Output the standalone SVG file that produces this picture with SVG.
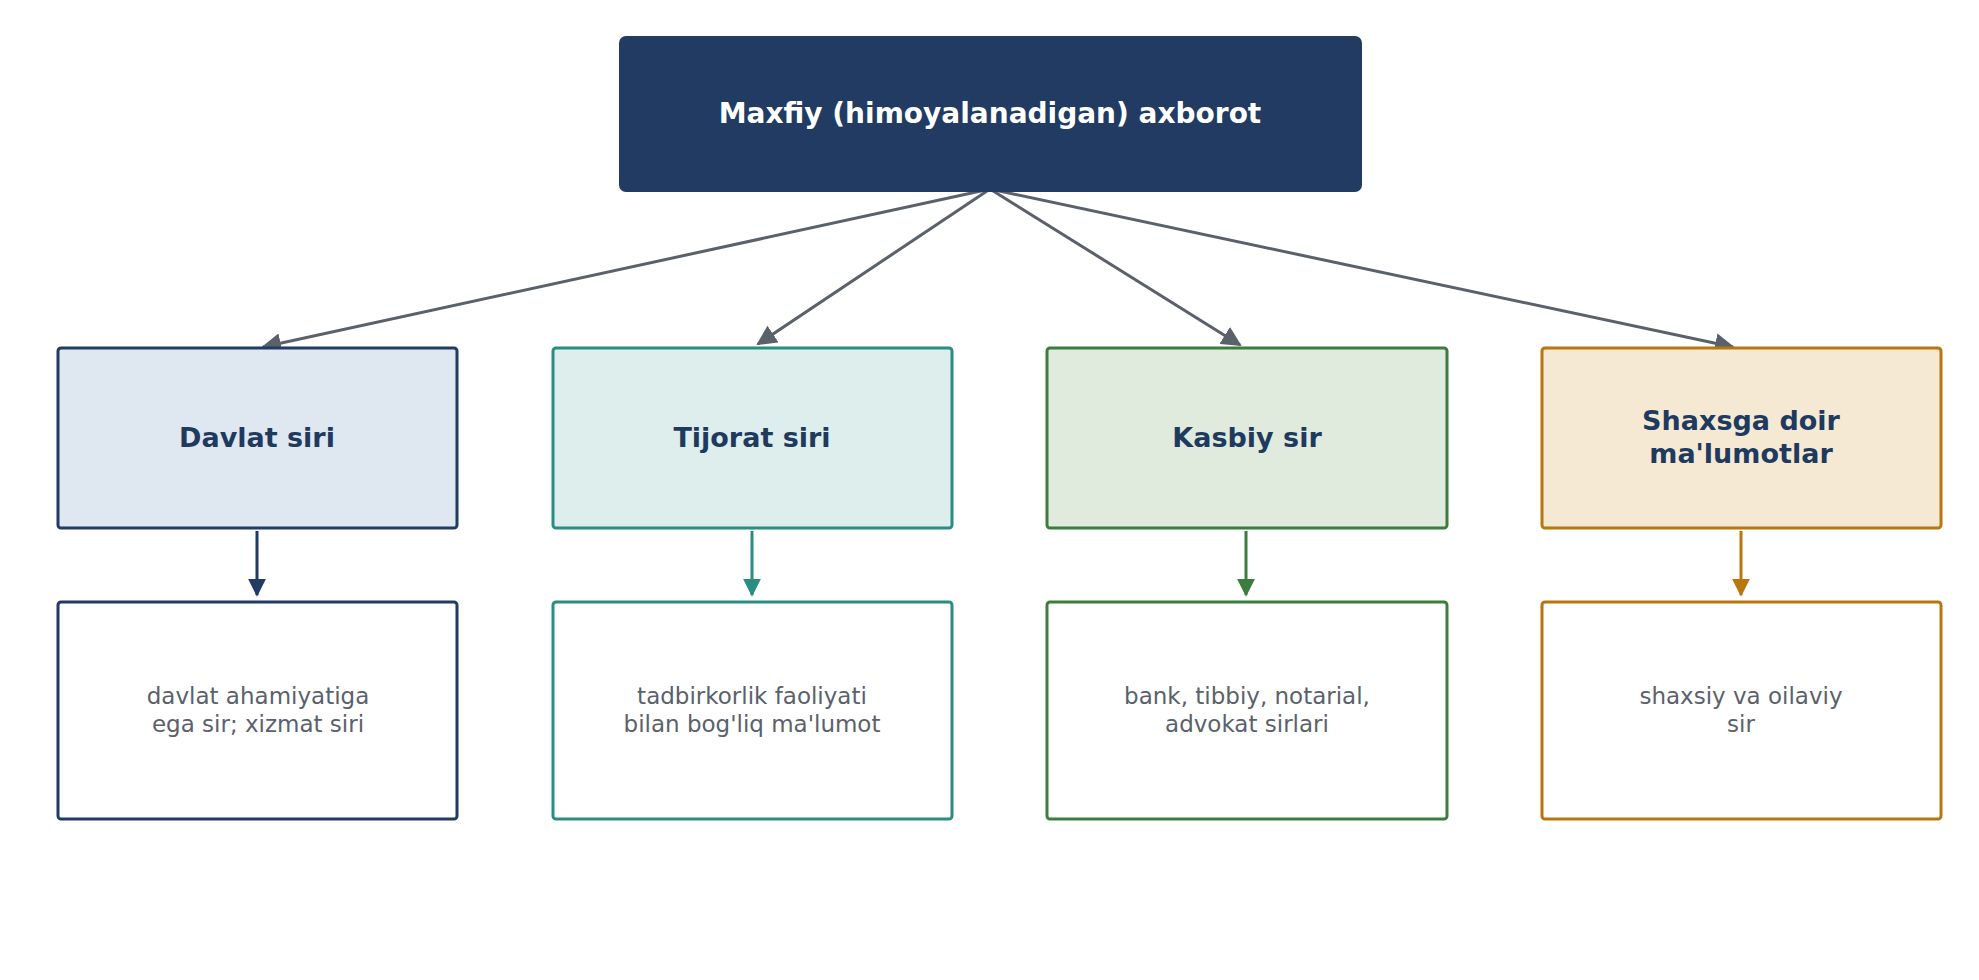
<svg xmlns="http://www.w3.org/2000/svg" width="1979" height="980" viewBox="0 0 1979 980">
<style>
text{font-family:"DejaVu Sans","Noto Sans",sans-serif;text-anchor:middle}
.h{font-weight:bold;font-size:27px;fill:#1F3A5F}
.d{font-size:23px;fill:#5A616B}
.c{stroke:#5A616B;stroke-width:3;fill:none}
</style>
<defs>
<marker id="ag" markerWidth="10" markerHeight="8" refX="9" refY="4" orient="auto" markerUnits="userSpaceOnUse" viewBox="0 0 10 8"><path d="M0,0L10,4L0,8z" fill="#5A616B"/></marker>
<marker id="an" viewBox="0 0 10 10" refX="9" refY="5" markerWidth="18" markerHeight="18" orient="auto" markerUnits="userSpaceOnUse"><path d="M0,0L10,5L0,10z" fill="#213B63"/></marker>
<marker id="at" viewBox="0 0 10 10" refX="9" refY="5" markerWidth="18" markerHeight="18" orient="auto" markerUnits="userSpaceOnUse"><path d="M0,0L10,5L0,10z" fill="#2A8C82"/></marker>
<marker id="agr" viewBox="0 0 10 10" refX="9" refY="5" markerWidth="18" markerHeight="18" orient="auto" markerUnits="userSpaceOnUse"><path d="M0,0L10,5L0,10z" fill="#3A7D3E"/></marker>
<marker id="ao" viewBox="0 0 10 10" refX="9" refY="5" markerWidth="18" markerHeight="18" orient="auto" markerUnits="userSpaceOnUse"><path d="M0,0L10,5L0,10z" fill="#B8760F"/></marker>
<marker id="a2" viewBox="0 0 10 10" refX="9" refY="5" markerWidth="20" markerHeight="20" orient="auto" markerUnits="userSpaceOnUse"><path d="M0,0L10,5L0,10z" fill="#5A616B"/></marker>
</defs>
<rect width="1979" height="980" fill="#fff"/>
<g id="connectors">
<line class="c" x1="990" y1="189" x2="263" y2="347" marker-end="url(#a2)"/>
<line class="c" x1="990" y1="189" x2="758" y2="344" marker-end="url(#a2)"/>
<line class="c" x1="990" y1="189" x2="1240" y2="345" marker-end="url(#a2)"/>
<line class="c" x1="990" y1="189" x2="1733" y2="347" marker-end="url(#a2)"/>
<line x1="257" y1="531" x2="257" y2="595" stroke="#213B63" stroke-width="3" marker-end="url(#an)"/>
<line x1="752" y1="531" x2="752" y2="595" stroke="#2A8C82" stroke-width="3" marker-end="url(#at)"/>
<line x1="1246" y1="531" x2="1246" y2="595" stroke="#3A7D3E" stroke-width="3" marker-end="url(#agr)"/>
<line x1="1741" y1="531" x2="1741" y2="595" stroke="#B8760F" stroke-width="3" marker-end="url(#ao)"/>
</g>
<g id="root"><rect x="619" y="36" width="743" height="156" rx="7" fill="#213B63"/><text x="990" y="123" font-size="28" font-weight="bold" fill="#fff">Maxfiy (himoyalanadigan) axborot</text></g>
<g id="n1"><rect x="58" y="348" width="399" height="180" rx="3" fill="#DFE7F1" stroke="#213B63" stroke-width="3"/><text class="h" x="257" y="447">Davlat siri</text></g>
<g id="n2"><rect x="553" y="348" width="399" height="180" rx="3" fill="#DDEEEC" stroke="#2A8C82" stroke-width="3"/><text class="h" x="752" y="447">Tijorat siri</text></g>
<g id="n3"><rect x="1047" y="348" width="400" height="180" rx="3" fill="#E1EBDD" stroke="#3A7D3E" stroke-width="3"/><text class="h" x="1247" y="447">Kasbiy sir</text></g>
<g id="n4"><rect x="1542" y="348" width="399" height="180" rx="3" fill="#F5E9D3" stroke="#B8760F" stroke-width="3"/><text class="h" x="1741" y="430">Shaxsga doir</text><text class="h" x="1741" y="463">ma'lumotlar</text></g>
<g id="d1"><rect x="58" y="602" width="399" height="217" rx="3" fill="#fff" stroke="#213B63" stroke-width="3"/><text class="d" x="258" y="704">davlat ahamiyatiga</text><text class="d" x="258" y="732">ega sir; xizmat siri</text></g>
<g id="d2"><rect x="553" y="602" width="399" height="217" rx="3" fill="#fff" stroke="#2A8C82" stroke-width="3"/><text class="d" x="752" y="704">tadbirkorlik faoliyati</text><text class="d" x="752" y="732">bilan bog'liq ma'lumot</text></g>
<g id="d3"><rect x="1047" y="602" width="400" height="217" rx="3" fill="#fff" stroke="#3A7D3E" stroke-width="3"/><text class="d" x="1247" y="704">bank, tibbiy, notarial,</text><text class="d" x="1247" y="732">advokat sirlari</text></g>
<g id="d4"><rect x="1542" y="602" width="399" height="217" rx="3" fill="#fff" stroke="#B8760F" stroke-width="3"/><text class="d" x="1741" y="704">shaxsiy va oilaviy</text><text class="d" x="1741" y="732">sir</text></g>
</svg>
